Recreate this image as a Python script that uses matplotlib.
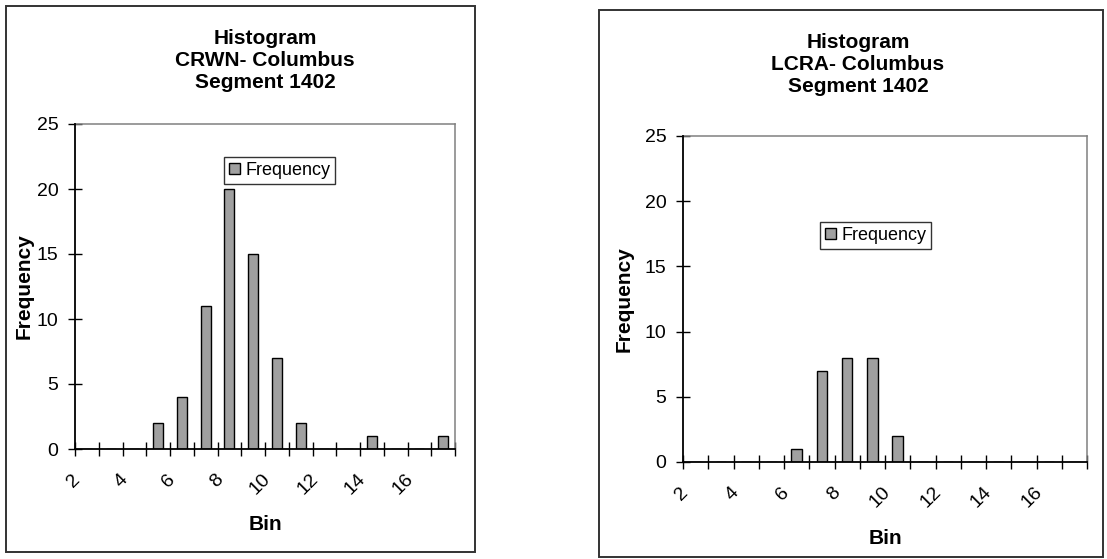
import matplotlib
matplotlib.use("Agg")
import matplotlib.pyplot as plt
from matplotlib.patches import Rectangle
from matplotlib.transforms import ScaledTranslation

plt.rcParams['font.family'] = ['Liberation Sans', 'DejaVu Sans']

# ---- data ----
bins = [2, 3, 4, 5, 6, 7, 8, 9, 10, 11, 12, 13, 14, 15, 16, 17]
crwn_freq = [0, 0, 0, 2, 4, 11, 20, 15, 7, 2, 0, 0, 1, 0, 0, 1]
lcra_freq = [0, 0, 0, 0, 1, 7, 8, 8, 2, 0, 0, 0, 0, 0, 0, 0]
titles = ["Histogram\nCRWN- Columbus\nSegment 1402",
          "Histogram\nLCRA- Columbus\nSegment 1402"]
y_ticks = [0, 5, 10, 15, 20, 25]

W, H = 1107, 559
DPI = 100
fig = plt.figure(figsize=(W / DPI, H / DPI), dpi=DPI)
fig.patch.set_facecolor('white')


def fx(px):
    return px / W


def fy(py):
    return 1 - py / H


# layout in pixels (left, top, right, bottom)
plot_boxes = [(75, 124, 455, 449), (683, 136, 1087, 462)]
frames = [(6, 6, 475, 552), (599, 10, 1103, 557)]
title_pos = [(265, 61), (858, 65)]
legend_pos = [(279.5, 170.5), (875.5, 235.5)]
ylabel_x = [24, 624]
xlabel_y = [525, 539]

for k, freq in enumerate([crwn_freq, lcra_freq]):
    l, t, r, b = plot_boxes[k]
    ax = fig.add_axes([fx(l), fy(b), fx(r) - fx(l), fy(t) - fy(b)])
    x = list(range(len(bins)))
    ax.bar(x, freq, width=0.42, color='#A0A0A0', edgecolor='black',
           linewidth=1.0, label='Frequency', zorder=2)
    ax.set_xlim(-0.5, len(bins) - 0.5)
    ax.set_ylim(0, 25)
    ax.set_yticks(y_ticks)
    ax.set_yticklabels([str(v) for v in y_ticks])
    ax.tick_params(axis='y', direction='inout', length=10, width=1.0,
                   labelsize=14, pad=7, colors='black')
    # tick labels at category centres, every other one shown
    ax.set_xticks(x)
    ax.set_xticklabels([str(bv) if i % 2 == 0 and i < 15 else ''
                        for i, bv in enumerate(bins)])
    ax.tick_params(axis='x', which='major', length=0, labelsize=14, pad=20)
    ax.set_xticks([i - 0.5 for i in range(len(bins) + 1)], minor=True)
    ax.tick_params(axis='x', which='minor', direction='inout', length=9.5,
                   width=1.0, colors='black')
    for s in ['top', 'right']:
        ax.spines[s].set_color('#808080')
        ax.spines[s].set_linewidth(1.1)
    for s in ['left', 'bottom']:
        ax.spines[s].set_color('black')
        ax.spines[s].set_linewidth(1.3)
        ax.spines[s].set_zorder(4)

    # shift rotated labels to the left of the category centre
    half = (r - l) / len(bins) / 2.0 - 3.0
    off = ScaledTranslation(-half / DPI, 0, fig.dpi_scale_trans)
    for lbl in ax.get_xticklabels():
        lbl.set_rotation(45)
        lbl.set_rotation_mode('anchor')
        lbl.set_ha('right')
        lbl.set_va('center')
        lbl.set_transform(lbl.get_transform() + off)

    ax.set_ylabel('Frequency', fontsize=15, fontweight='bold')
    ax.yaxis.set_label_coords((ylabel_x[k] - l) / (r - l), 0.5)
    ax.set_xlabel('Bin', fontsize=15, fontweight='bold')
    ax.xaxis.set_label_coords(0.5, (b - xlabel_y[k]) / (b - t))
    ax.xaxis.label.set_va('center')
    ax.yaxis.label.set_va('center')

    lx, ly = legend_pos[k]
    leg = ax.legend(loc='center',
                    bbox_to_anchor=((lx - l) / (r - l), (b - ly) / (b - t)),
                    fontsize=13, frameon=True, fancybox=False, shadow=False,
                    handlelength=0.6, handleheight=0.6, handletextpad=0.3,
                    borderpad=0.25, borderaxespad=0)
    leg.get_frame().set_edgecolor('black')
    leg.get_frame().set_linewidth(1.0)

    tx, ty = title_pos[k]
    fig.text(fx(tx), fy(ty), titles[k], ha='center', va='center',
             fontsize=15, fontweight='bold', linespacing=1.2)

    fl, ft, fr, fb = frames[k]
    fig.add_artist(Rectangle((fx(fl), fy(fb)), fx(fr) - fx(fl), fy(ft) - fy(fb),
                             transform=fig.transFigure, fill=False,
                             edgecolor='#333333', linewidth=1.4))

fig.savefig('out.png', dpi=DPI, facecolor='white')
